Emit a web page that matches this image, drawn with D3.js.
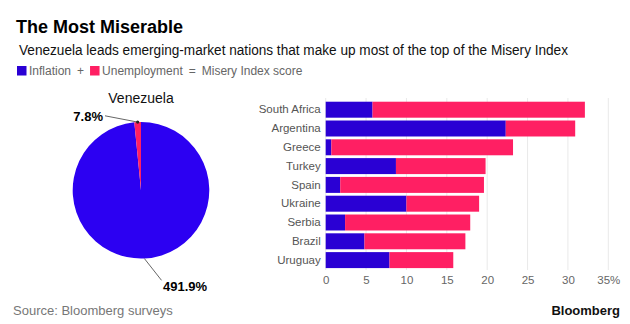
<!DOCTYPE html>
<html>
<head>
<meta charset="utf-8">
<script src="https://cdn.jsdelivr.net/npm/d3@7"></script>
<style>
  body { margin: 0; background: #fff; }
  svg { display: block; font-family: "Liberation Sans", Arial, sans-serif; }
</style>
</head>
<body>
<svg id="chart" width="630" height="324"></svg>
<script>
// misery index = inflation + unemployment
var countries = ["South Africa", "Argentina", "Greece", "Turkey", "Spain", "Ukraine", "Serbia", "Brazil", "Uruguay"];
var inflation = [5.8, 22.3, 0.7, 8.7, 1.8, 10.0, 2.4, 4.8, 7.9];
var unemployment = [26.3, 8.6, 22.5, 11.1, 17.8, 9.0, 15.5, 12.5, 7.9];

var vzKeys = ["inflation", "unemployment"];
var vzValues = [491.9, 7.8];
var vzLabels = ["491.9%", "7.8%"];

var xTicks = [0, 5, 10, 15, 20, 25, 30, 35];
var xTickLabels = ["0", "5", "10", "15", "20", "25", "30", "35%"];

var blue = "#2a00d4", pieBlue = "#2c00f2", red = "#ff1f63";

var svg = d3.select("#chart");

// header
svg.append("text")
	.attr("x", 16).attr("y", 33)
	.attr("font-size", "18px").attr("font-weight", "bold")
	.attr("fill", "#000")
	.text("The Most Miserable");

svg.append("text")
	.attr("x", 19).attr("y", 54.5)
	.attr("font-size", "14px").attr("fill", "#111")
	.attr("textLength", 549).attr("lengthAdjust", "spacingAndGlyphs")
	.text("Venezuela leads emerging-market nations that make up most of the top of the Misery Index");

// legend: swatch, word, operator ...
var legendItems = [
	{swatch: blue, text: "Inflation"},
	{text: "+"},
	{swatch: red, text: "Unemployment"},
	{text: "="},
	{text: "Misery Index score"}
];
var lx = 17;
var legend = svg.append("g").attr("font-size", "12px").attr("fill", "#666");
legendItems.forEach(function(item) {
	if (item.swatch) {
		legend.append("rect")
			.attr("x", lx).attr("y", 66)
			.attr("width", 9.5).attr("height", 9.5)
			.attr("fill", item.swatch);
		lx += 12;
	}
	var t = legend.append("text").attr("x", lx).attr("y", 75).text(item.text);
	lx += t.node().getComputedTextLength() + 6;
});

// Venezuela pie
var cx = 141, cy = 190.3, r = 68.3;
var pieG = svg.append("g").attr("transform", "translate(" + cx + "," + cy + ")");

pieG.append("text")
	.attr("x", 0).attr("y", -87)
	.attr("text-anchor", "middle")
	.attr("font-size", "14px").attr("fill", "#111")
	.text("Venezuela");

var pie = d3.pie().sort(null).value(function(d) { return d; });
var arcs = pie(vzValues);
var arc = d3.arc().innerRadius(0).outerRadius(r);
var edge = d3.arc().innerRadius(r).outerRadius(r);

pieG.selectAll("path")
	.data(arcs)
	.enter().append("path")
	.attr("d", arc)
	.attr("fill", function(d, i) { return i === 0 ? pieBlue : red; });

// leader lines run from the rim at each slice's mid angle out to its label
var labelPos = [
	{x: 22, y: 100.5, anchor: "start", lineEnd: [20.5, 90]},
	{x: -38, y: -69, anchor: "end", lineEnd: [-36, -74.5]}
];
arcs.forEach(function(a, i) {
	var p = edge.centroid(a), lp = labelPos[i];
	pieG.append("line")
		.attr("x1", p[0]).attr("y1", p[1])
		.attr("x2", lp.lineEnd[0]).attr("y2", lp.lineEnd[1])
		.attr("stroke", "#555").attr("stroke-width", 0.9);
	if (i === 1) {
		pieG.append("circle").attr("cx", p[0]).attr("cy", p[1]).attr("r", 1.6).attr("fill", "#222");
	}
	pieG.append("text")
		.attr("x", lp.x).attr("y", lp.y)
		.attr("text-anchor", lp.anchor)
		.attr("font-size", "13px").attr("font-weight", "bold").attr("fill", "#000")
		.text(vzLabels[i]);
});

// stacked bars
var rows = countries.map(function(c, i) {
	return {country: c, inflation: inflation[i], unemployment: unemployment[i]};
});
var series = d3.stack().keys(vzKeys)(rows);

var x = d3.scaleLinear().domain([0, 35]).range([325.7, 608.3]);
var y = d3.scaleBand().domain(countries).range([100.3, 269.5]).paddingInner(0.15).paddingOuter(0.075);

svg.append("g")
	.selectAll("line")
	.data(xTicks)
	.enter().append("line")
	.attr("x1", function(d) { return x(d); }).attr("x2", function(d) { return x(d); })
	.attr("y1", 98).attr("y2", 270)
	.attr("stroke", "#e9e9e9").attr("stroke-width", 1);

svg.append("g")
	.selectAll("g")
	.data(series)
	.enter().append("g")
	.attr("fill", function(d) { return d.key === "inflation" ? blue : red; })
	.selectAll("rect")
	.data(function(d) { return d; })
	.enter().append("rect")
	.attr("x", function(d) { return x(d[0]); })
	.attr("width", function(d) { return x(d[1]) - x(d[0]); })
	.attr("y", function(d) { return y(d.data.country); })
	.attr("height", y.bandwidth());

var yAxis = svg.append("g")
	.attr("transform", "translate(" + x(0) + ",0)")
	.call(d3.axisLeft(y).tickSize(0).tickPadding(5));
yAxis.select(".domain").remove();
yAxis.selectAll("text").attr("font-size", "11.5px").attr("fill", "#555").attr("font-family", null);

var xAxis = svg.append("g")
	.attr("transform", "translate(0,270)")
	.call(d3.axisBottom(x).tickValues(xTicks)
		.tickFormat(function(d, i) { return xTickLabels[i]; })
		.tickSize(0).tickPadding(6));
xAxis.select(".domain").remove();
xAxis.selectAll("text").attr("font-size", "11.5px").attr("fill", "#666").attr("font-family", null);

// footer
svg.append("text")
	.attr("x", 13).attr("y", 314.5)
	.attr("font-size", "13px").attr("fill", "#777")
	.text("Source: Bloomberg surveys");

svg.append("text")
	.attr("x", 620).attr("y", 314.5)
	.attr("text-anchor", "end")
	.attr("font-size", "13px").attr("font-weight", "bold").attr("fill", "#111")
	.text("Bloomberg");
</script>
</body>
</html>
